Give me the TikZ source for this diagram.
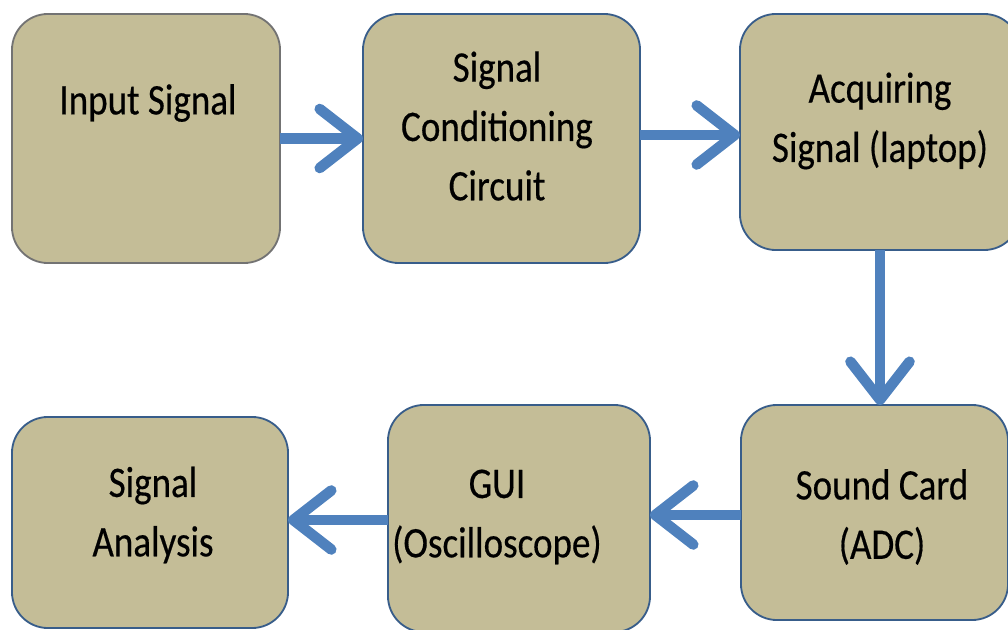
\documentclass[tikz,border=0pt]{standalone}
\usepackage{fontspec}
\setmainfont{Carlito}[FakeStretch=0.85,FakeBold=0.4]
\usetikzlibrary{arrows.meta}
\definecolor{tan}{RGB}{196,189,151}
\definecolor{boxline}{RGB}{56,93,138}
\definecolor{flow}{RGB}{79,129,189}
\begin{document}
\begin{tikzpicture}[x=0.025cm,y=-0.025cm,
  blk/.style={draw=boxline,fill=tan,line width=1.3pt,rounded corners=0.9cm,
    inner sep=0pt,outer sep=0pt},
  txt/.style={align=center,inner sep=0pt,
    font=\fontsize{31}{42.2}\selectfont},
  flowarrow/.style={draw=flow,line width=7.5pt,
    -{Straight Barb[length=27pt,width=42pt,round]}}]
  % frame of the picture
  \useasboundingbox (0,0) rectangle (1008,630);
  \clip (0,0) rectangle (1008,630);
  % top row
  \node[blk,draw=black!55,minimum width=6.7cm,minimum height=6.225cm] (input) at (146,138.5) {};
  \node[blk,minimum width=6.925cm,minimum height=6.225cm] (cond) at (501.5,138.5) {};
  \node[blk,minimum width=7.0cm,minimum height=5.9cm] (acq) at (880,132) {};
  % bottom row
  \node[blk,minimum width=6.675cm,minimum height=5.375cm] (sound) at (874.5,512.5) {};
  \node[blk,minimum width=6.55cm,minimum height=5.675cm] (gui) at (519,518.5) {};
  \node[blk,minimum width=6.9cm,minimum height=5.275cm] (anal) at (150,522.5) {};
  % texts
  \node[txt] (inputtxt) at (148,103) {Input Signal};
  \node[txt] (condtxt) at (497,126) {Signal\\Conditioning\\Circuit};
  \node[txt] (acqtxt) at (880,121) {Acquiring\\Signal (laptop)};
  \node[txt] (soundtxt) at (882,517) {Sound Card\\(ADC)};
  \node[txt] (guitxt) at (497,517) {GUI\\(Oscilloscope)};
  \node[txt] (analtxt) at (153,515) {Signal\\Analysis};
  % arrows
  \draw[flowarrow] (input.east) -- (cond.west);
  \draw[flowarrow] (cond.east |- 0,135) -- (acq.west |- 0,135);
  \draw[flowarrow] (acq.south) -- (acq.south |- sound.north);
  \draw[flowarrow] (sound.west |- 0,515) -- (gui.east |- 0,515);
  \draw[flowarrow] (gui.west |- 0,520) -- (anal.east |- 0,520);
\end{tikzpicture}
\end{document}
